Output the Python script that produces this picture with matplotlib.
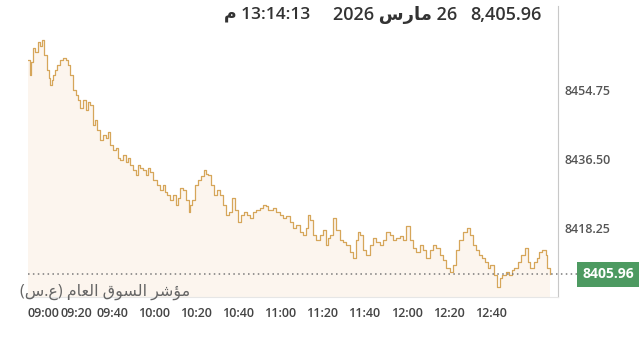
import re
import matplotlib
matplotlib.use('Agg')
import matplotlib.pyplot as plt
import matplotlib.transforms as mtransforms

# minutes after 09:00 and index level
minutes = [0, 0.95, 1.4, 2.4, 3.3, 4.8, 5.7, 6.7, 7.6, 9.0, 10.0, 10.5, 11.4, 11.9, 12.8, 13.8,
           15.2, 16.6, 18.1, 19.0, 20.0, 21.4, 22.8, 23.8, 24.7, 26.1, 27.6, 28.5, 29.5, 30.9,
           31.8, 32.8, 34.2, 35.6, 37.1, 38.0, 39.0, 40.4, 41.8, 42.8, 43.7, 45.1, 46.6, 47.5,
           48.5, 49.9, 51.3, 52.3, 53.2, 54.6, 56.1, 57.0, 58.0, 59.4, 61.3, 62.7, 64.1, 65.1,
           66.0, 67.5, 68.9, 70.3, 71.3, 72.2, 73.6, 75.1, 76.5, 77.0, 77.9, 79.3, 80.8, 82.2,
           83.6, 84.6, 85.5, 86.9, 88.4, 89.8, 91.2, 92.6, 94.1, 95.5, 96.9, 98.3, 99.8, 101.2,
           102.6, 104.0, 105.5, 106.9, 108.3, 110.2, 111.6, 113.1, 114.0, 115.0, 116.4, 117.8,
           119.7, 121.1, 122.6, 124.5, 125.9, 127.3, 129.2, 130.6, 132.1, 133.0, 134.0, 135.4,
           136.8, 138.7, 140.1, 141.6, 142.5, 143.5, 144.9, 146.3, 148.2, 149.6, 151.1, 153.0,
           154.4, 155.8, 156.8, 157.7, 159.1, 160.6, 162.5, 163.9, 165.3, 167.2, 168.6, 170.1,
           172.0, 173.4, 174.8, 176.7, 178.1, 179.6, 181.5, 182.9, 184.3, 186.2, 187.6, 189.1,
           191.0, 192.4, 193.8, 195.7, 197.1, 198.6, 200.5, 201.9, 203.3, 204.7, 206.6, 208.5,
           210.0, 211.4, 212.8, 214.2, 215.7, 217.1, 218.5, 219.9, 221.4, 222.8, 224.2, 225.6,
           227.1, 228.5, 229.9, 231.3, 232.8, 234.2, 236.1, 237.5, 238.9, 240.4, 241.8, 243.2,
           244.6, 246.1, 247.0, 248.0]
levels = [8462.69, 8458.72, 8462.10, 8465.86, 8464.80, 8467.45, 8466.40, 8467.98, 8464.01, 8460.04,
          8457.90, 8456.07, 8457.40, 8458.72, 8460.00, 8461.36, 8462.69, 8463.22, 8462.69, 8461.36,
          8458.72, 8454.75, 8453.43, 8452.10, 8449.99, 8452.10, 8449.46, 8451.60, 8450.78, 8445.49,
          8446.80, 8444.17, 8441.52, 8442.84, 8442.05, 8443.60, 8440.20, 8438.88, 8439.41, 8436.80,
          8436.23, 8437.55, 8435.70, 8436.80, 8434.91, 8433.58, 8432.26, 8434.90, 8434.11, 8433.58,
          8432.26, 8434.10, 8433.06, 8430.94, 8429.62, 8428.29, 8429.62, 8427.80, 8426.97, 8425.65,
          8426.97, 8424.33, 8426.20, 8428.80, 8428.29, 8425.65, 8422.48, 8424.30, 8425.65, 8429.62,
          8430.94, 8432.00, 8433.58, 8432.50, 8432.26, 8429.62, 8426.97, 8428.29, 8426.97, 8424.33,
          8421.69, 8422.48, 8426.20, 8423.01, 8419.84, 8421.69, 8422.48, 8421.69, 8420.90, 8422.48,
          8423.01, 8423.54, 8424.33, 8424.06, 8423.00, 8423.01, 8423.54, 8422.48, 8421.69, 8420.90,
          8421.42, 8419.84, 8418.25, 8419.05, 8417.19, 8416.40, 8418.25, 8421.69, 8420.37, 8416.40,
          8415.08, 8416.40, 8417.72, 8413.76, 8415.60, 8416.40, 8420.90, 8417.72, 8415.08, 8414.55,
          8413.76, 8411.90, 8410.31, 8415.08, 8417.19, 8416.40, 8412.43, 8411.11, 8413.76, 8415.61,
          8414.55, 8413.76, 8415.08, 8417.19, 8416.40, 8415.08, 8415.61, 8416.13, 8415.08, 8418.80,
          8415.08, 8412.95, 8411.90, 8413.76, 8412.43, 8410.31, 8412.43, 8413.76, 8412.95, 8411.11,
          8409.78, 8407.67, 8406.61, 8408.46, 8412.43, 8415.08, 8417.19, 8418.25, 8416.40, 8413.76,
          8412.43, 8411.11, 8410.31, 8409.25, 8407.67, 8408.46, 8405.82, 8402.64, 8405.03, 8405.82,
          8406.61, 8405.82, 8407.14, 8407.67, 8409.25, 8411.11, 8412.95, 8409.25, 8407.67, 8409.25,
          8410.31, 8411.90, 8412.43, 8411.11, 8407.67, 8405.96]

tick_minutes = [0, 20, 40, 60, 80, 100, 120, 140, 160, 180, 200, 220]
tick_labels = ['09:00', '09:20', '09:40', '10:00', '10:20', '10:40', '11:00', '11:20',
               '11:40', '12:00', '12:20', '12:40']
y_ticks = [8418.25, 8436.50, 8454.75]
last = 8405.96
title_value = '8,405.96'
title_date = '26 مارس 2026'
title_time = '13:14:13 م'
index_name = 'مؤشر السوق العام (ع.س)'

# tiny arabic shaper: isolated, final, initial, medial
FORMS = {
    'ا': ('\uFE8D', '\uFE8E', None, None),
    'ؤ': ('\uFE85', '\uFE86', None, None),
    'ر': ('\uFEAD', '\uFEAE', None, None),
    'و': ('\uFEED', '\uFEEE', None, None),
    'ش': ('\uFEB5', '\uFEB6', '\uFEB7', '\uFEB8'),
    'س': ('\uFEB1', '\uFEB2', '\uFEB3', '\uFEB4'),
    'ل': ('\uFEDD', '\uFEDE', '\uFEDF', '\uFEE0'),
    'ق': ('\uFED5', '\uFED6', '\uFED7', '\uFED8'),
    'ع': ('\uFEC9', '\uFECA', '\uFECB', '\uFECC'),
    'م': ('\uFEE1', '\uFEE2', '\uFEE3', '\uFEE4'),
}


def shape(s):
    out = []
    for i, c in enumerate(s):
        if c not in FORMS:
            out.append(c)
            continue
        iso, fin, ini, med = FORMS[c]
        prev = s[i - 1] if i > 0 else ''
        nxt = s[i + 1] if i + 1 < len(s) else ''
        jp = prev in FORMS and FORMS[prev][2] is not None
        jn = nxt in FORMS and ini is not None
        out.append(med if (jp and jn) else fin if jp else ini if jn else iso)
    return ''.join(out)


def rtl(s):
    parts = re.findall(r'[0-9][0-9.,:]*|[^0-9]+', shape(s))
    out = []
    for p in reversed(parts):
        if p[0].isdigit():
            out.append(p)
        else:
            out.append(p[::-1].translate(str.maketrans('()', ')(')))
    return ''.join(out)


plt.rcParams['font.family'] = ['Open Sans', 'DejaVu Sans']

W, H = 640, 351
fig = plt.figure(figsize=(W / 100, H / 100), dpi=100)
ax = fig.add_axes([28 / W, 1 - 297 / H, 530 / W, 291 / H])

line_c = '#d6a65a'
ax.fill_between(minutes, levels, 8390, color='#fcf5ee', lw=0, step='post')
ax.plot(minutes, levels, color=line_c, lw=0.9, drawstyle='steps-post')

ax.set_xlim(0, 252)
ax.set_ylim(8400.0, 8476.97)

for s in ['left', 'top']:
    ax.spines[s].set_visible(False)
ax.spines['right'].set_color('#c8c8c8')
ax.spines['bottom'].set_color('#e6e6e6')

ax.yaxis.tick_right()
ax.set_yticks(y_ticks)
ax.set_yticklabels(['%.2f' % v for v in y_ticks])
ax.tick_params(axis='y', length=0, pad=5, labelsize=9, labelcolor='#555555')
ax.set_xticks(tick_minutes)
ax.set_xticklabels(tick_labels)
ax.tick_params(axis='x', length=0, pad=7, labelsize=9, labelcolor='#444444')
for lbl in ax.get_yticklabels() + ax.get_xticklabels():
    lbl.set_fontweight('semibold')
xl = ax.get_xticklabels()
xl[0].set_ha('left')
xl[1].set_transform(xl[1].get_transform() +
                    mtransforms.ScaledTranslation(6 / 100, 0, fig.dpi_scale_trans))

trans = mtransforms.blended_transform_factory(ax.transAxes, ax.transData)
ax.axhline(last, xmin=0, xmax=550 / 530, color='#7a7a7a', lw=1.1, ls=(0, (1, 2.2)),
           clip_on=False)
ax.text(580 / 530, last, '%.2f' % last, transform=trans, ha='center',
        va='center', color='white', fontsize=10, fontweight='bold',
        bbox=dict(boxstyle='square,pad=0.4', fc='#4d9a61', ec='none'))

fig.text(542 / W, 1 - 15 / H, title_value, ha='right', va='center', fontsize=13,
         fontweight='semibold', color='#333333')
fig.text(457 / W, 1 - 15 / H, rtl(title_date), ha='right', va='center', fontsize=13,
         fontweight='semibold', color='#333333')
fig.text(310 / W, 1 - 15 / H, rtl(title_time), ha='right', va='center', fontsize=12.5,
         fontweight='semibold', color='#333333')
fig.text(190 / W, 1 - 292 / H, rtl(index_name), ha='right', va='center', fontsize=11.5,
         color='#666666')

fig.savefig('out.png', dpi=100)
